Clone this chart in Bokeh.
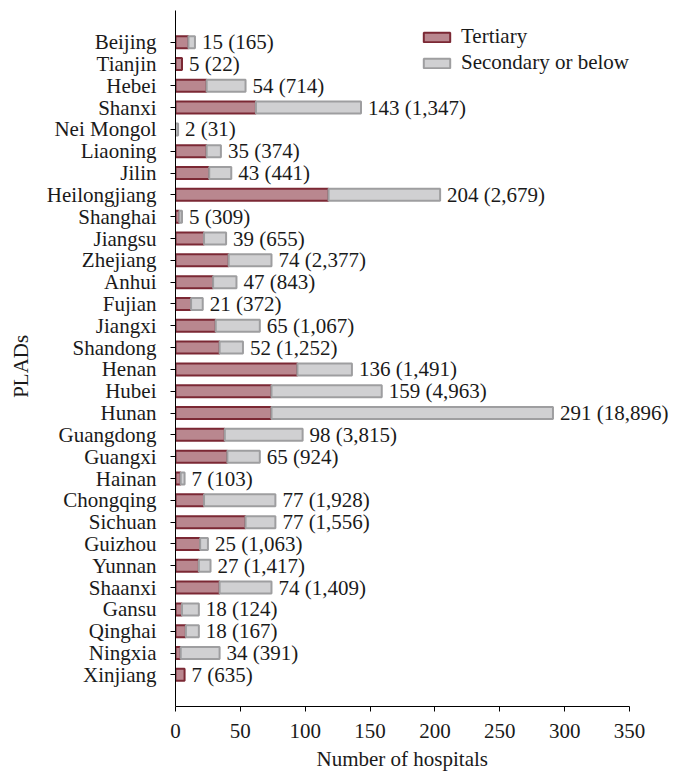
from bokeh.plotting import figure
from bokeh.models import (ColumnDataSource, FactorRange, Range1d, LabelSet, Legend, LegendItem,
                          FixedTicker, Title)
from bokeh.embed import file_html
from bokeh.resources import INLINE

provinces = ["Beijing", "Tianjin", "Hebei", "Shanxi", "Nei Mongol", "Liaoning", "Jilin",
             "Heilongjiang", "Shanghai", "Jiangsu", "Zhejiang", "Anhui", "Fujian", "Jiangxi",
             "Shandong", "Henan", "Hubei", "Hunan", "Guangdong", "Guangxi", "Hainan",
             "Chongqing", "Sichuan", "Guizhou", "Yunnan", "Shaanxi", "Gansu", "Qinghai",
             "Ningxia", "Xinjiang"]
tertiary = [10, 5, 24, 62, 0, 24, 26, 118, 3, 22, 41, 29, 12, 31, 34, 94, 74, 74, 38, 40, 4,
            22, 54, 19, 18, 34, 5, 8, 4, 7]
secondary = [5, 0, 30, 81, 2, 11, 17, 86, 2, 17, 33, 18, 9, 34, 18, 42, 85, 217, 60, 25, 3,
             55, 23, 6, 9, 40, 13, 10, 30, 0]
totals = [15, 5, 54, 143, 2, 35, 43, 204, 5, 39, 74, 47, 21, 65, 52, 136, 159, 291, 98, 65, 7,
          77, 77, 25, 27, 74, 18, 18, 34, 7]
patients = [165, 22, 714, 1347, 31, 374, 441, 2679, 309, 655, 2377, 843, 372, 1067, 1252, 1491,
            4963, 18896, 3815, 924, 103, 1928, 1556, 1063, 1417, 1409, 124, 167, 391, 635]
x_ticks = [0, 50, 100, 150, 200, 250, 300, 350]

FONT = "'Liberation Serif', 'Times New Roman', serif"
FS = "21px"
TXT = "#1a1a1a"
T_FILL, T_LINE = "#b9878f", "#7b2834"
S_FILL, S_LINE = "#d0d0d2", "#9e9ea0"

# frame runs past the 350 mark so the value labels and legend are not cut off;
# the axis itself is bounded to 0..350
X_END = 350 * 498 / 454

p = figure(width=673, height=775, output_backend="svg", toolbar_location=None,
           y_range=FactorRange(factors=list(reversed(provinces)), range_padding=0.95,
                               range_padding_units="absolute"),
           x_range=Range1d(0, X_END),
           min_border_left=175, min_border_right=0, min_border_top=10, min_border_bottom=69)
p.outline_line_color = None
p.xgrid.grid_line_color = None
p.ygrid.grid_line_color = None
p.background_fill_color = "white"
p.border_fill_color = "white"

t_idx = [i for i in range(len(provinces)) if tertiary[i] > 0]
s_idx = [i for i in range(len(provinces)) if secondary[i] > 0]
t_src = ColumnDataSource(dict(y=[provinces[i] for i in t_idx],
                              left=[0] * len(t_idx),
                              right=[tertiary[i] for i in t_idx]))
s_src = ColumnDataSource(dict(y=[provinces[i] for i in s_idx],
                              left=[tertiary[i] for i in s_idx],
                              right=[tertiary[i] + secondary[i] for i in s_idx]))

r_t = p.hbar(y="y", left="left", right="right", height=0.55, source=t_src,
             fill_color=T_FILL, line_color=T_LINE, line_width=2)
r_s = p.hbar(y="y", left="left", right="right", height=0.55, source=s_src,
             fill_color=S_FILL, line_color=S_LINE, line_width=2)

lab_src = ColumnDataSource(dict(x=totals, y=provinces,
                                text=[f"{t} ({n:,})" for t, n in zip(totals, patients)]))
labels = LabelSet(x="x", y="y", text="text", source=lab_src, x_offset=7,
                  text_baseline="middle", text_font=FONT, text_font_size=FS,
                  text_color=TXT)
p.add_layout(labels)

legend = Legend(items=[LegendItem(label="Tertiary", renderers=[r_t]),
                       LegendItem(label="Secondary or below", renderers=[r_s])],
                location=(245, 631), padding=0, margin=0, spacing=1,
                glyph_width=33, glyph_height=12, label_standoff=8,
                label_text_font=FONT, label_text_font_size=FS,
                label_text_color=TXT, background_fill_alpha=0,
                border_line_color=None)
p.add_layout(legend)

xa = p.xaxis[0]
xa.ticker = FixedTicker(ticks=x_ticks)
xa.bounds = (0, 350)
xa.minor_tick_line_color = None
xa.major_tick_in = 0
xa.major_tick_out = 5
xa.axis_line_color = "black"
xa.major_tick_line_color = "black"
xa.major_label_text_font = FONT
xa.major_label_text_font_size = FS
xa.major_label_text_color = TXT
xa.major_label_standoff = 12

ya = p.yaxis[0]
ya.major_tick_in = 0
ya.major_tick_out = 5
ya.axis_line_color = "black"
ya.major_tick_line_color = "black"
ya.major_label_text_font = FONT
ya.major_label_text_font_size = FS
ya.major_label_text_color = TXT
ya.major_label_standoff = 14
ya.axis_label = "PLADs" + "\u00a0" * 3
ya.axis_label_text_font = FONT
ya.axis_label_text_font_size = FS
ya.axis_label_text_font_style = "normal"
ya.axis_label_text_color = TXT
ya.axis_label_standoff = 11

p.add_layout(Title(text="Number of hospitals", align="left", offset=141, standoff=8,
                   text_font=FONT, text_font_size=FS, text_font_style="normal",
                   text_color=TXT), "below")

open("out.html", "w").write(file_html(p, INLINE))
